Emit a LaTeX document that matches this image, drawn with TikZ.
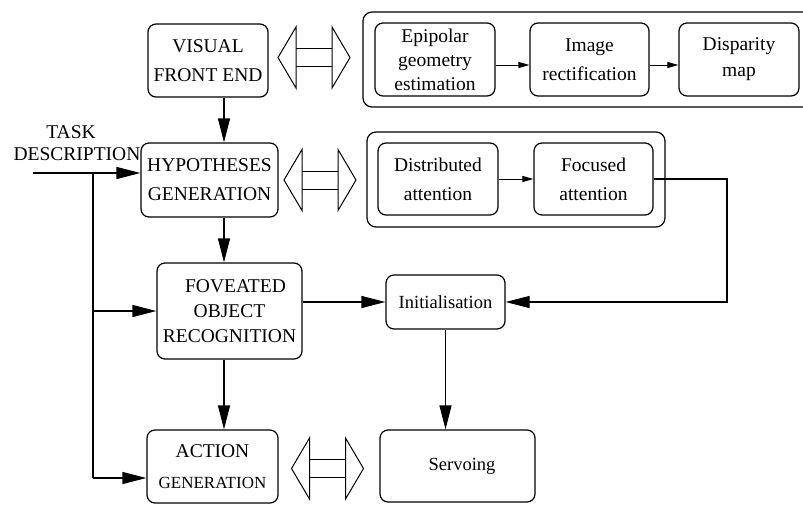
\documentclass[tikz,border=0pt]{standalone}
\usepackage{fontspec}
\setmainfont{Liberation Serif}
\usetikzlibrary{arrows.meta}
\begin{document}
\begin{tikzpicture}[x=1pt,y=-1pt,
  line width=1.2pt,
  box/.style={draw,rounded corners=8pt,align=center,inner sep=0pt,
    font=\fontsize{19.5}{29}\selectfont},
  outer/.style={draw,rounded corners=9pt},
  arr/.style={-{Triangle[length=24pt,width=12pt]}},
  sarr/.style={-{Triangle[length=11pt,width=6pt]},line width=1pt},
  dblarrow/.pic={
    \draw[line width=1pt] (-36,0) -- (-18,-30.5) -- (-18,30.5) -- cycle;
    \draw[line width=1pt] (36,0) -- (18,-30.5) -- (18,30.5) -- cycle;
    \draw[line width=1pt] (-18,-9) -- (18,-9) (-18,9) -- (18,9);
  }]
\useasboundingbox (0,0) rectangle (803,504);

% main column
\node[box,minimum width=120pt,minimum height=73pt] (vfe) at (208,60.5) {VISUAL\\FRONT END};
\node[box,minimum width=137pt,minimum height=74pt] (hyp) at (209.5,180) {HYPOTHESES\\GENERATION};
\node[box,minimum width=145pt,minimum height=96pt,font=\fontsize{19.5}{25}\selectfont] (fov) at (229.5,311) {\hspace*{12pt}FOVEATED\\OBJECT\\RECOGNITION};
\node[box,minimum width=131pt,minimum height=73pt,font=\fontsize{19.5}{31}\selectfont] (act) at (212.5,466.5) {ACTION\\{\fontsize{17}{20}\selectfont GENERATION}};

\node[align=center,inner sep=0pt,font=\fontsize{19.5}{22}\selectfont] (task) at (77,143) {TASK\hspace*{12pt}\\DESCRIPTION};

% outer boxes
\draw[outer] (363,12) rectangle (815,107);
\draw[outer] (367,132) rectangle (665,227);

% top row
\node[box,minimum width=120pt,minimum height=73pt,font=\fontsize{19.5}{24}\selectfont] (epi) at (435,59.5) {Epipolar\\geometry\\estimation};
\node[box,minimum width=119pt,minimum height=73pt] (img) at (589.5,59.5) {Image\\rectification};
\node[box,minimum width=120pt,minimum height=73pt,font=\fontsize{19.5}{26}\selectfont] (dis) at (739,59.5) {Disparity\\map};

% attention row
\node[box,minimum width=120pt,minimum height=72pt] (dist) at (438,179) {Distributed\\attention};
\node[box,minimum width=119pt,minimum height=72pt] (foc) at (593.5,179) {Focused\\attention};

% right column
\node[box,minimum width=119pt,minimum height=54pt,font=\fontsize{18.5}{22}\selectfont] (init) at (445.5,302) {Initialisation};
\node[box,minimum width=155pt,minimum height=72pt,font=\fontsize{18.5}{22}\selectfont] (serv) at (457.5,466) {\hspace*{9pt}Servoing};

% double arrows
\pic at (314,57.5) {dblarrow};
\pic at (320,180) {dblarrow};
\pic at (327.5,468.5) {dblarrow};

% coordinates
\coordinate (cx) at (224,0);
\coordinate (tstart) at (33,173);
\coordinate (vj) at (93,173);
\coordinate (abot) at (93,478);
\coordinate (fr) at (727,0);

% connectors
\draw[arr] (vfe.south -| cx) -- (hyp.north -| cx);
\draw[arr] (hyp.south -| cx) -- (fov.north -| cx);
\draw[arr] (fov.south -| cx) -- (act.north -| cx);
\draw[arr] (tstart) -- (tstart -| hyp.west);
\draw (vj) -- (abot);
\draw[arr] (vj |- fov.west) -- (fov.west);
\draw[arr] (abot) -- (abot -| act.west);
\draw[arr] (fov.east |- init.west) -- (init.west);
\draw[arr] (foc.east) -| (fr |- init.east) -- (init.east);
\draw[arr] (init.south) -- (init.south |- serv.north);
\draw[sarr] ([yshift=-5.5pt]epi.east) -- ([yshift=-5.5pt]img.west);
\draw[sarr] ([yshift=-5.5pt]img.east) -- ([yshift=-5.5pt]dis.west);
\draw[sarr] (dist.east) -- (foc.west);
\end{tikzpicture}
\end{document}
